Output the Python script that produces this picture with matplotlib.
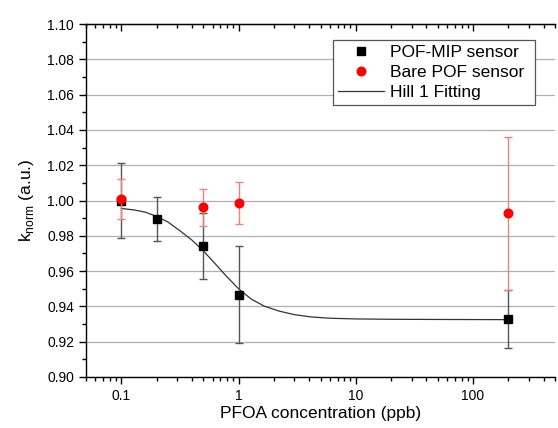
import matplotlib
matplotlib.use("Agg")
import matplotlib.pyplot as plt
from matplotlib.lines import Line2D
from matplotlib.ticker import MultipleLocator, LogLocator, NullFormatter, FixedLocator

plt.rcParams['font.family'] = ['Liberation Sans', 'DejaVu Sans']

# concentrations (ppb)
conc = [0.1, 0.2, 0.5, 1, 200]
mip_k = [1.000, 0.9895, 0.9742, 0.9466, 0.933]
mip_err = [0.0215, 0.0122, 0.0185, 0.0275, 0.0165]

bare_conc = [0.1, 0.5, 1, 200]
bare_k = [1.0008, 0.9961, 0.9985, 0.9927]
bare_err = [0.0112, 0.0105, 0.012, 0.0435]

# Hill 1 fitting curve
fit_x = [0.1, 0.13, 0.16, 0.2, 0.25, 0.32, 0.4, 0.5, 0.62, 0.78, 1.0, 1.28,
         1.65, 2.2, 3.0, 4.2, 6.0, 10, 20, 50, 200]
fit_y = [0.9955, 0.9946, 0.9934, 0.9910, 0.9878, 0.9826, 0.9776, 0.9715,
         0.9648, 0.9574, 0.9500, 0.9442, 0.9402, 0.9374, 0.9353, 0.9340,
         0.9333, 0.9329, 0.9327, 0.9326, 0.9325]

fig = plt.figure(figsize=(5.58, 4.28), dpi=100)
ax = fig.add_axes([86 / 558, 51 / 428, 469 / 558, 353 / 428])

ax.plot(fit_x, fit_y, color='#333333', lw=0.9, zorder=3)
ax.errorbar(conc, mip_k, yerr=mip_err, fmt='s', color='black', ms=5.8,
            ecolor='#555555', elinewidth=1.0, capsize=3, capthick=1.0, zorder=4)
ax.errorbar(bare_conc, bare_k, yerr=bare_err, fmt='o', color='red', ms=6.2,
            ecolor='#f08080', elinewidth=1.0, capsize=3, capthick=1.0, zorder=5)

ax.set_xscale('log')
ax.set_xlim(0.05, 500)
ax.set_ylim(0.90, 1.10)
ax.yaxis.set_major_locator(MultipleLocator(0.02))
ax.yaxis.set_minor_locator(MultipleLocator(0.01))
ax.yaxis.set_major_formatter(plt.FormatStrFormatter('%.2f'))
ax.xaxis.set_major_locator(FixedLocator([0.1, 1, 10, 100]))
ax.xaxis.set_major_formatter(plt.FuncFormatter(lambda v, p: '%g' % v))
ax.xaxis.set_minor_locator(LogLocator(base=10, subs=range(2, 10), numticks=20))
ax.xaxis.set_minor_formatter(NullFormatter())

ax.grid(axis='y', which='major', color='#b0b0b0', lw=0.9)
ax.set_axisbelow(True)
ax.spines['right'].set_visible(False)
for s in ['left', 'bottom', 'top']:
    ax.spines[s].set_linewidth(1.0)

ax.tick_params(which='major', direction='out', length=5, labelsize=10, width=1)
ax.tick_params(which='minor', direction='out', length=3, width=1)

top = ax.secondary_xaxis('top')
top.xaxis.set_major_locator(FixedLocator([0.1, 1, 10, 100]))
top.xaxis.set_minor_locator(LogLocator(base=10, subs=range(2, 10), numticks=20))
top.xaxis.set_major_formatter(NullFormatter())
top.xaxis.set_minor_formatter(NullFormatter())
top.tick_params(which='major', direction='in', length=5, width=1)
top.tick_params(which='minor', direction='in', length=3, width=1)

ax.set_xlabel('PFOA concentration (ppb)', fontsize=12.5, labelpad=2)
ax.set_ylabel(r'k$_{\mathregular{norm}}$ (a.u.)', fontsize=12.5, labelpad=8)

handles = [
    Line2D([], [], ls='none', marker='s', color='black', ms=5.8),
    Line2D([], [], ls='none', marker='o', color='red', ms=6.2),
    Line2D([], [], color='#333333', lw=0.9),
]
labels = ['POF-MIP sensor', 'Bare POF sensor', 'Hill 1 Fitting']
leg = ax.legend(handles, labels, loc='upper left', mode='expand',
                bbox_to_anchor=(0.527, 0.765, 0.43, 0.19),
                borderaxespad=0, fontsize=12.5, fancybox=False, framealpha=1,
                edgecolor='#555555', handlelength=2.6, handletextpad=0.35,
                borderpad=0.3, labelspacing=0.28)
leg.get_frame().set_linewidth(0.9)

fig.savefig('out.png', dpi=100)
